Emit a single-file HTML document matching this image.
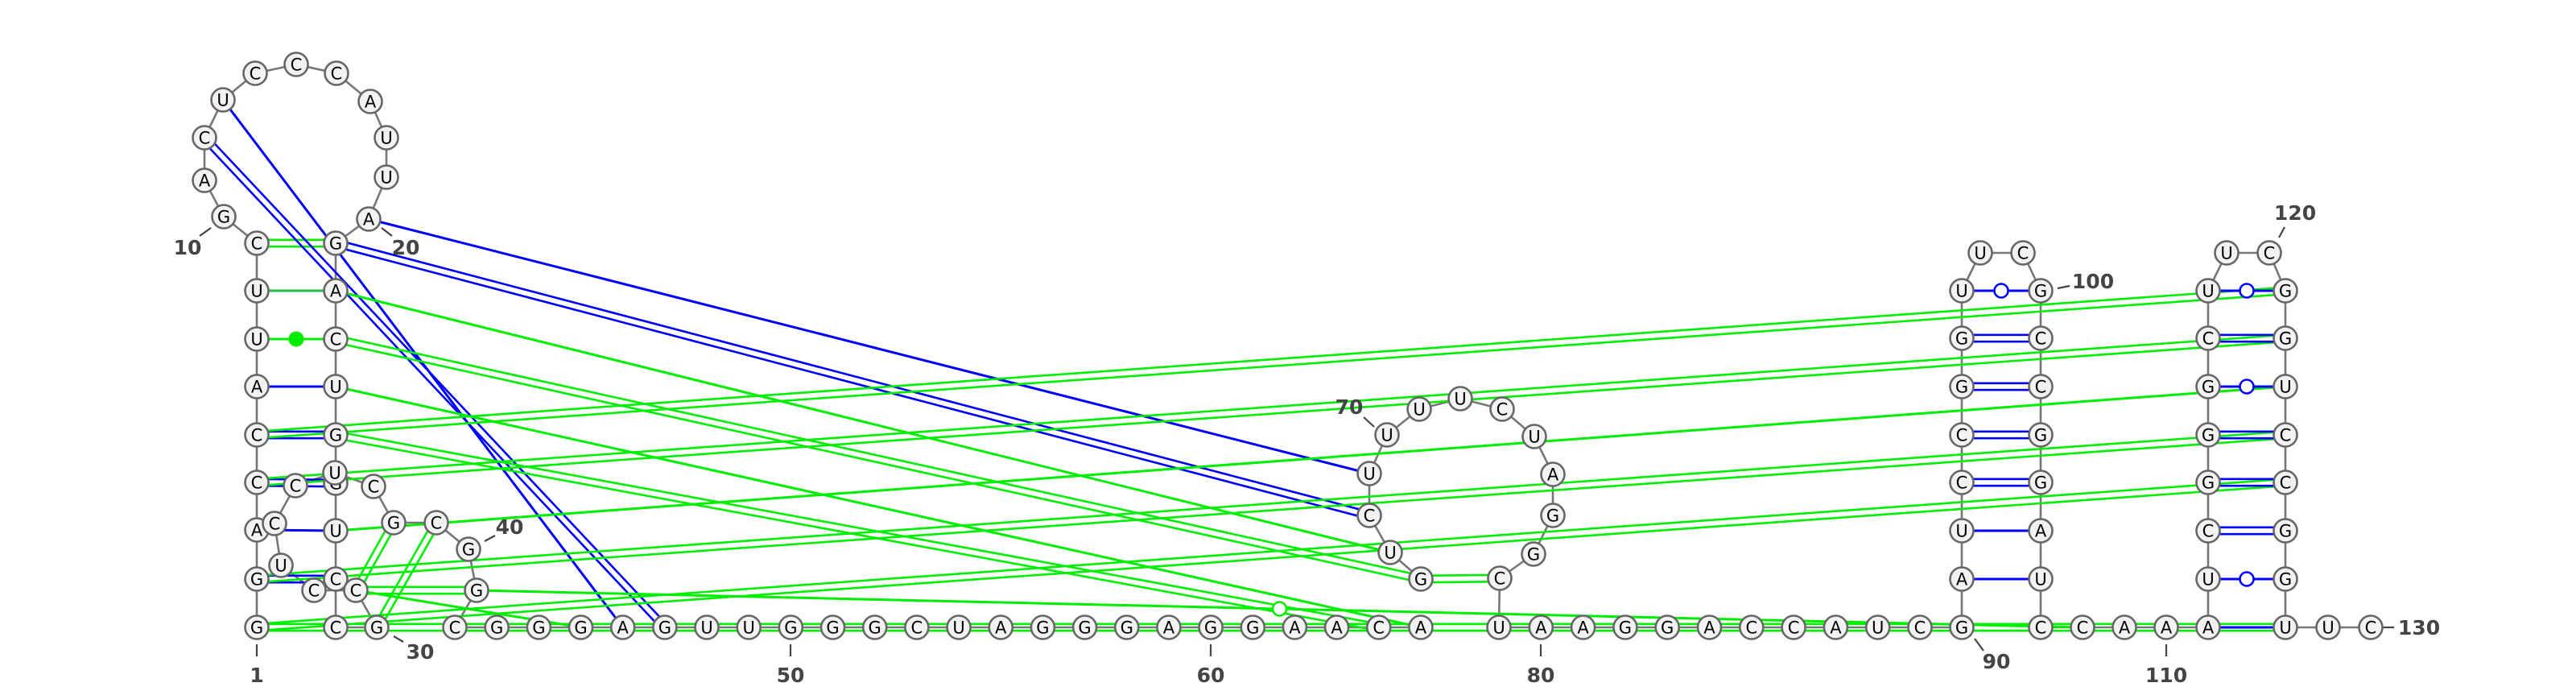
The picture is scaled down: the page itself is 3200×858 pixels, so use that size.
<!DOCTYPE html>
<html><head><meta charset="utf-8"><title>RNA secondary structure</title>
<style>
html,body{margin:0;padding:0;background:#fff;}
svg{display:block;}
.nt{font-family:"DejaVu Sans","Liberation Sans",sans-serif;font-size:21px;fill:#000;}
.lbl{font-family:"DejaVu Sans","Liberation Sans",sans-serif;font-size:25px;font-weight:bold;fill:#444;}
</style></head>
<body>
<svg id="rna" xmlns="http://www.w3.org/2000/svg" width="3200" height="858" viewBox="0 0 3200 858">
<g id="backbone"></g>
<g id="pairs"></g>
<g id="ticks"></g>
<g id="nodes"></g>
</svg>
<script>
// sequence letters (index 1..130)
const seqParts = ["GGACCAUUC","GACUCCCAUUA","GACUGGUCC","GCCUCCUCGCGG","CGGGAGUUGGGCUAGGGAGGAACA",
  "GUCUUUUCUAGGC","UAAGGACCAUC","GAUCCGGUUCGCCGGAUC","CAA","AUCGGGCUUCGGUCCGGUUC"];
const seq = seqParts.join("");
// layout x,y per nucleotide (1-based)
const posX = [];
const posY = [];
function P(i,x,y){posX[i]=x;posY[i]=y;}
const leftCol=[779,719,658,599,540,480,421,361,302];
for(let i=1;i<=9;i++)P(i,319,leftCol[i-1]);
P(10,278,269);P(11,254,224);P(12,254,171);P(13,277,124);P(14,317,91);P(15,368,80);
P(16,418,91);P(17,460,126);P(18,480,171);P(19,480,220);P(20,458,272);
const rightCol=[302,361,421,480,540,600,659,719,779];
for(let i=21;i<=29;i++)P(i,417,rightCol[i-21]);
P(30,468,779);P(31,442,733);P(32,390,733);P(33,349,702);P(34,341,650);P(35,367,603);
P(36,416,587);P(37,464,604);P(38,489,649);P(39,542,649);P(40,582,682);P(41,592,733);
for(let i=42;i<=65;i++)P(i,565+(i-42)*52.17,779);
P(66,1765,719);P(67,1727,686);P(68,1701,640);P(69,1701,588);P(70,1723,540);P(71,1763,508);
P(72,1814,495);P(73,1866,508);P(74,1906,542);P(75,1929,589);P(76,1929,640);P(77,1905,688);P(78,1863,718);
for(let i=79;i<=90;i++)P(i,1862+(i-79)*52.3,779);
const stemY=[779,719,659,599,540,480,420,361];
for(let i=90;i<=97;i++)P(i,2437,stemY[i-90]);
P(98,2460,314);P(99,2513,314);
for(let i=100;i<=107;i++)P(i,2535,stemY[107-i]);
for(let i=108;i<=111;i++)P(i,2535+(i-107)*52,779);
for(let i=111;i<=118;i++)P(i,2743,stemY[i-111]);
P(119,2766,314);P(120,2819,314);
for(let i=121;i<=128;i++)P(i,2839,stemY[128-i]);
P(129,2892,779);P(130,2945,779);

// base pairs: [i, j, colour, style]
const pairI = [9,8,7,6,5,4,3,2,1, 13,12,20,21, 5,4,27,2,1, 22,23,24,25,38,39,31,31,41,1,42,66,
  97,96,95,94,93,92,91,90, 118,117,116,115,114,113,112,111];
const pairJ = [21,22,23,24,25,26,27,28,29, 46,47,69,68, 121,122,123,124,125, 67,66,65,64,31,30,41,45,108,107,128,78,
  100,101,102,103,104,105,106,107, 121,122,123,124,125,126,127,128];
const pairC = ["g","g2","g","b","b","b","b","b","g", "b","b","b","b", "g","g","g","g","g", "g","g","g","g","g","g","g","g","g","g","g","g",
  "b","b","b","b","b","b","b","g", "b","b","b","b","b","b","b","b"];
const pairS = ["d","s","dot","s","d","d","s","d","d", "s","d","s","d", "d","d","s","d","d", "s","d","s","d","d","d","d","s","open","d","d","d",
  "open","d","d","d","d","s","s","d", "open","d","open","d","d","d","open","s"];

const NS="http://www.w3.org/2000/svg";
const COL={g:"#00ee00",g2:"#1fc24a",b:"#0000ff"};
function mk(tag,attrs,parent){const e=document.createElementNS(NS,tag);for(const k in attrs)e.setAttribute(k,attrs[k]);parent.appendChild(e);return e;}
const gb=document.getElementById('backbone'),gp=document.getElementById('pairs'),gt=document.getElementById('ticks'),gn=document.getElementById('nodes');

// backbone
for(let i=1;i<130;i++){
  if(i===65)continue;
  const l=mk('line',{x1:posX[i],y1:posY[i],x2:posX[i+1],y2:posY[i+1],stroke:"#777","stroke-width":2.6},gb);
  
  
}

// pairs
for(let k=0;k<pairI.length;k++){
  const a=pairI[k],b=pairJ[k],c=COL[pairC[k]],s=pairS[k];
  const x1=posX[a],y1=posY[a],x2=posX[b],y2=posY[b];
  const dx=x2-x1,dy=y2-y1,L=Math.hypot(dx,dy)||1,nx=-dy/L,ny=dx/L;
  const g=mk('g',{},gp);
  
  
  if(s==="d"){
    for(const o of [-4.2,4.2])mk('line',{x1:x1+nx*o,y1:y1+ny*o,x2:x2+nx*o,y2:y2+ny*o,stroke:c,"stroke-width":2.6},g);
  }else{
    mk('line',{x1,y1,x2,y2,stroke:c,"stroke-width":3},g);
    const mx=(x1+x2)/2,my=(y1+y2)/2;
    if(s==="open")mk('circle',{cx:mx,cy:my,r:8.5,fill:"#fff",stroke:c,"stroke-width":2.6},g);
    if(s==="dot")mk('circle',{cx:mx,cy:my,r:9.5,fill:c},g);
  }
}

// numbering labels
const lblText=["1","10","20","30","40","50","60","70","80","90","100","110","120","130"];
const lblX=[319,233,504,522,633,982,1504,1676,1914,2480,2600,2691,2851,3005];
const lblY=[847,316,316,818,663,847,847,514,847,830,358,847,273,788];
const tk=[[319,800,319,815],[248,293,262,283],[474,283,487,293],[489,790,501,797],[602,672,615,665],
  [982,800,982,815],[1504,800,1504,815],[1694,518,1707,530],[1914,800,1914,815],[2453,793,2464,808],
  [2556,358,2571,355],[2691,800,2691,815],[2838,282,2831,295],[2960,779,2974,779]];
for(let k=0;k<lblText.length;k++){
  const t=tk[k];
  const l=mk('line',{x1:t[0],y1:t[1],x2:t[2],y2:t[3],stroke:"#444","stroke-width":2.2},gt);
  
  
  const tx=mk('text',{x:lblX[k],y:lblY[k],class:"lbl","text-anchor":"middle"},gt);
  tx.textContent=lblText[k];
  
  
}

// nucleotides
for(let i=1;i<=130;i++){
  const g=mk('g',{},gn);
  
  
  mk('circle',{cx:posX[i],cy:posY[i],r:14.5,fill:"#f2f2f2",stroke:"#666","stroke-width":2.6},g);
  const t=mk('text',{x:posX[i],y:posY[i]+7.5,class:"nt","text-anchor":"middle"},g);
  t.textContent=seq[i-1];
}
</script>
</body></html>
